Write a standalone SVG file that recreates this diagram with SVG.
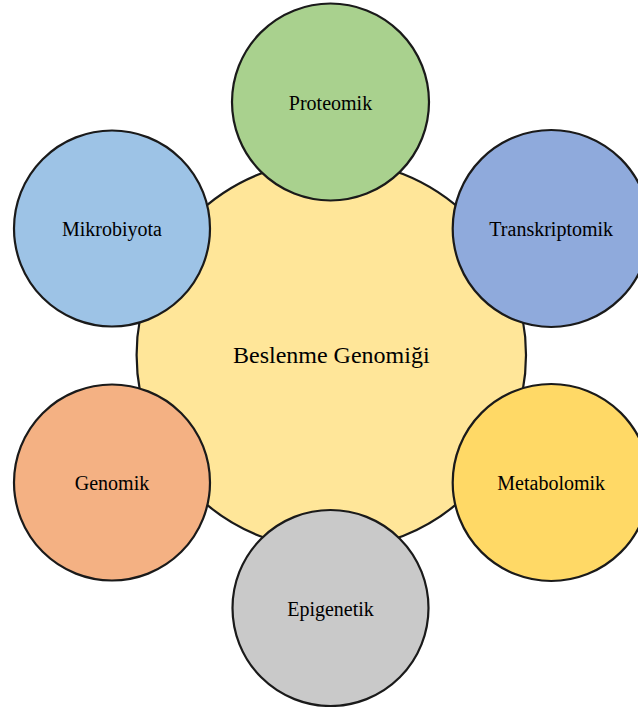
<svg xmlns="http://www.w3.org/2000/svg" width="638" height="707" viewBox="0 0 638 707">
<style>
.c{stroke:#1a1a1a;stroke-width:2.2}
.t{font-family:"Liberation Serif","Times New Roman",serif;font-size:20px;fill:#000;text-anchor:middle}
</style>
<rect width="638" height="707" fill="#fff"/>
<g id="center"><circle class="c" cx="331.3" cy="355" r="194.7" fill="#FFE699"/><text class="t" x="331.3" y="363" style="font-size:24px">Beslenme Genomiği</text></g>
<g id="proteomik"><circle class="c" cx="330.5" cy="102" r="98.5" fill="#A9D18E"/><text class="t" x="330.5" y="109.5">Proteomik</text></g>
<g id="transkriptomik"><circle class="c" cx="551.2" cy="228.5" r="98.5" fill="#8FAADC"/><text class="t" x="551.2" y="236">Transkriptomik</text></g>
<g id="metabolomik"><circle class="c" cx="551.2" cy="482.5" r="98.5" fill="#FFD966"/><text class="t" x="551.2" y="490">Metabolomik</text></g>
<g id="epigenetik"><circle class="c" cx="330.5" cy="608" r="98" fill="#C9C9C9"/><text class="t" x="330.5" y="615.5">Epigenetik</text></g>
<g id="genomik"><circle class="c" cx="112" cy="482.5" r="98" fill="#F4B183"/><text class="t" x="112" y="490">Genomik</text></g>
<g id="mikrobiyota"><circle class="c" cx="112" cy="228.5" r="98" fill="#9DC3E6"/><text class="t" x="112" y="236">Mikrobiyota</text></g>
<g id="connectors"></g>
</svg>
